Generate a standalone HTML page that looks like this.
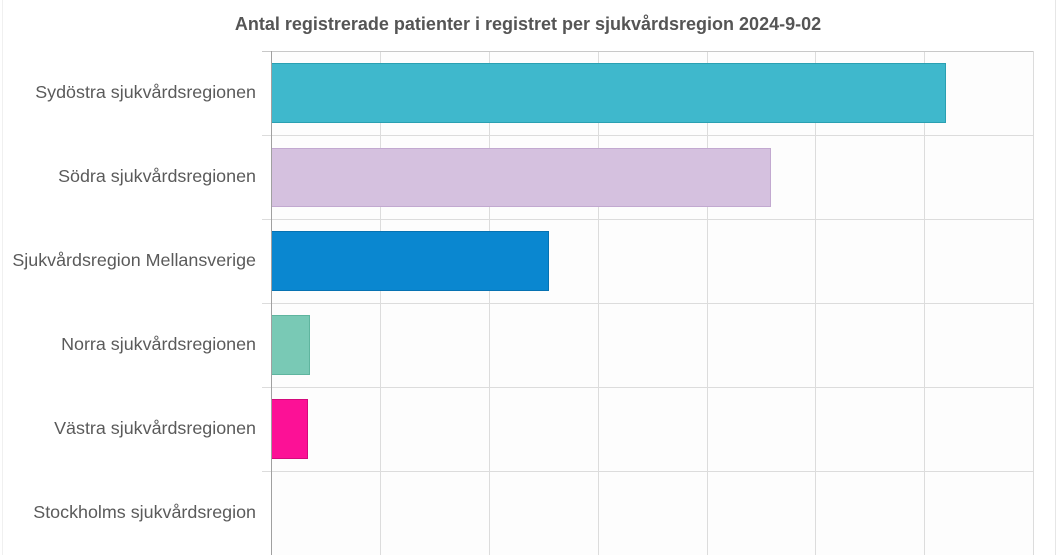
<!DOCTYPE html>
<html><head><meta charset="utf-8"><style>
body{margin:0;background:#fff;font-family:"Liberation Sans",Arial,sans-serif;}
</style></head><body>
<svg width="1060" height="555" xmlns="http://www.w3.org/2000/svg" style="display:block">
<rect x="0" y="0" width="1060" height="555" fill="#fff"/>
<line x1="1055.5" y1="0" x2="1055.5" y2="555" stroke="#e6e6e6"/>
<line x1="2.5" y1="0" x2="2.5" y2="555" stroke="#f0f0f0"/>
<rect x="271" y="51" width="762" height="504" fill="#fdfdfd"/>
<text x="528" y="30" text-anchor="middle" font-size="18" font-weight="bold" fill="#555">Antal registrerade patienter i registret per sjukvårdsregion 2024-9-02</text>
<g stroke="#dcdcdc" stroke-width="1">
<line x1="380.5" y1="51" x2="380.5" y2="555"/>
<line x1="489.5" y1="51" x2="489.5" y2="555"/>
<line x1="598.5" y1="51" x2="598.5" y2="555"/>
<line x1="707.5" y1="51" x2="707.5" y2="555"/>
<line x1="815.5" y1="51" x2="815.5" y2="555"/>
<line x1="924.5" y1="51" x2="924.5" y2="555"/>
<line x1="1033.5" y1="51" x2="1033.5" y2="555"/>
<line x1="262" y1="135.5" x2="1033" y2="135.5"/>
<line x1="262" y1="219.5" x2="1033" y2="219.5"/>
<line x1="262" y1="303.5" x2="1033" y2="303.5"/>
<line x1="262" y1="387.5" x2="1033" y2="387.5"/>
<line x1="262" y1="471.5" x2="1033" y2="471.5"/>
</g>
<line x1="262" y1="51.5" x2="1033" y2="51.5" stroke="#c8c8c8"/>
<rect x="271.5" y="63.5" width="674" height="59" fill="#3fb8cc" stroke="#2aa0b2"/>
<rect x="271.5" y="148.5" width="499" height="58" fill="#d5c1df" stroke="#c2a9d0"/>
<rect x="271.5" y="231.5" width="277" height="59" fill="#0a87d0" stroke="#0672b2"/>
<rect x="271.5" y="315.5" width="38" height="59" fill="#79c9b5" stroke="#5fb59f"/>
<rect x="271.5" y="399.5" width="36" height="59" fill="#fc1196" stroke="#d40a7c"/>
<line x1="271.5" y1="51" x2="271.5" y2="555" stroke="#a0a0a0"/>
<g font-size="17.9" fill="#5a5a5a" text-anchor="end">
<text x="256" y="98">Sydöstra sjukvårdsregionen</text>
<text x="256" y="182">Södra sjukvårdsregionen</text>
<text x="256" y="266">Sjukvårdsregion Mellansverige</text>
<text x="256" y="350">Norra sjukvårdsregionen</text>
<text x="256" y="434">Västra sjukvårdsregionen</text>
<text x="256" y="518">Stockholms sjukvårdsregion</text>
</g>
</svg>
</body></html>
